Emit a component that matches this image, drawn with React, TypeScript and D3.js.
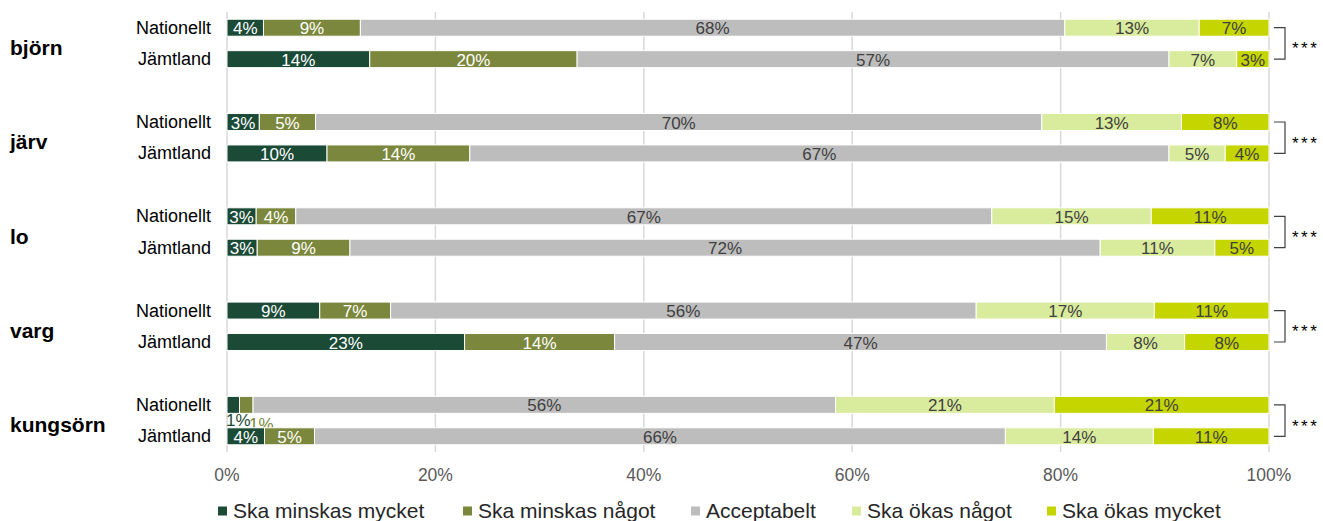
import React from 'react';
import * as d3 from 'd3';

// Species groups and the two regions compared in each
const groups = ['björn', 'järv', 'lo', 'varg', 'kungsörn'];
const regions = ['Nationellt', 'Jämtland'];
const categories = ['Ska minskas mycket', 'Ska minskas något', 'Acceptabelt', 'Ska ökas något', 'Ska ökas mycket'];

// Shares (%) per row, in category order
const nationellt = [
  [3.5, 9.3, 67.6, 12.9, 6.7],
  [3.1, 5.4, 69.7, 13.4, 8.4],
  [2.8, 3.8, 66.8, 15.3, 11.3],
  [8.9, 6.8, 56.2, 17.1, 11.0],
  [1.2, 1.3, 55.9, 21.0, 20.6],
];
const jamtland = [
  [13.7, 19.9, 56.8, 6.5, 3.1],
  [9.6, 13.7, 67.1, 5.4, 4.2],
  [2.9, 8.9, 72.0, 11.0, 5.2],
  [22.8, 14.4, 47.2, 7.5, 8.1],
  [3.6, 4.8, 66.3, 14.2, 11.1],
];
const significance = ['***', '***', '***', '***', '***'];
const xTicks = [0, 20, 40, 60, 80, 100];

const colors = ['#1b4a36', '#7b873c', '#bdbdbd', '#d9eb9c', '#c5d500'];
const labelColors = ['#ffffff', '#ffffff', '#404040', '#404040', '#404040'];

const W = 1323;
const H = 521;
const font = 'Arial, "Liberation Sans", sans-serif';

export default function App() {
  // slots: each group has two rows + a blank spacer (none after the last)
  const slots: string[] = [];
  groups.forEach((g, gi) => {
    regions.forEach(r => slots.push(`${g}|${r}`));
    if (gi < groups.length - 1) slots.push(`gap${gi}`);
  });

  const x = d3.scaleLinear().domain([0, 100]).range([227, 1269]);
  const y = d3.scaleBand().domain(slots).range([12, 452]).paddingInner(0.46).paddingOuter(0.23);
  const bh = y.bandwidth();

  const rows = groups.flatMap((g, gi) => [
    { key: `${g}|Nationellt`, vals: nationellt[gi] },
    { key: `${g}|Jämtland`, vals: jamtland[gi] },
  ]);

  const legendX = [218, 463, 691, 852, 1047];
  // offsets for labels of tiny segments, drawn below the bar
  const smallDx = [5, 15];
  const smallDy = [13, 17];

  return (
    <svg width={W} height={H} style={{ position: 'absolute', left: 0, top: 0, background: '#fff' }} fontFamily={font}>
      {/* grid */}
      {xTicks.map(t => (
        <g key={t}>
          <line x1={x(t)} x2={x(t)} y1={12} y2={452} stroke="#d9d9d9" strokeWidth={1.5} />
          <text x={x(t)} y={481} textAnchor="middle" fontSize={17.5} fill="#595959">{t}%</text>
        </g>
      ))}

      {/* labels of tiny segments sit below their bar, under the next bar */}
      {rows.map(row => {
        const stack = d3.cumsum(row.vals);
        const y0 = y(row.key)!;
        return row.vals.map((v, i) => v < 2 ? (
          <text key={`${row.key}-s${i}`} x={(x(stack[i] - v) + x(stack[i])) / 2 + smallDx[i]} y={y0 + bh + smallDy[i]}
            textAnchor="middle" fontSize={17} fill={colors[i]}>{Math.round(v)}%</text>
        ) : null);
      })}

      {/* bars */}
      {rows.map(row => {
        const stack = d3.cumsum(row.vals);
        const y0 = y(row.key)!;
        const cy = y0 + bh / 2;
        const region = row.key.split('|')[1];
        return (
          <g key={row.key}>
            <text x={211} y={cy + 6} textAnchor="end" fontSize={18} fill="#000">{region}</text>
            {row.vals.map((v, i) => {
              const a = x(stack[i] - v);
              const b = x(stack[i]);
              return (
                <g key={i}>
                  <rect x={a} y={y0} width={b - a} height={bh} fill={colors[i]} stroke="#fff" strokeWidth={1} />
                  {v >= 2 && (
                    <text x={(a + b) / 2} y={cy + 6.5} textAnchor="middle" fontSize={17} fill={labelColors[i]}>
                      {Math.round(v)}%
                    </text>
                  )}
                </g>
              );
            })}
          </g>
        );
      })}

      {/* group labels and significance brackets */}
      {groups.map((g, gi) => {
        const yN = y(`${g}|Nationellt`)! + bh / 2;
        const yJ = y(`${g}|Jämtland`)! + bh / 2;
        const mid = (yN + yJ) / 2;
        return (
          <g key={g}>
            <text x={10} y={mid + 11.5} fontSize={21} fontWeight="bold" fill="#000">{g}</text>
            <path d={`M1274,${yN}H1285V${yJ}H1274`} fill="none" stroke="#404040" strokeWidth={1.2} />
            <text x={1292} y={mid + 11} fontSize={17} letterSpacing={2.5} fill="#000">{significance[gi]}</text>
          </g>
        );
      })}

      {/* legend */}
      {categories.map((c, i) => (
        <g key={c}>
          <rect x={legendX[i]} y={506.5} width={9} height={9} fill={colors[i]} />
          <text x={legendX[i] + 15} y={517.5} fontSize={21} fill="#262626">{c}</text>
        </g>
      ))}
    </svg>
  );
}
